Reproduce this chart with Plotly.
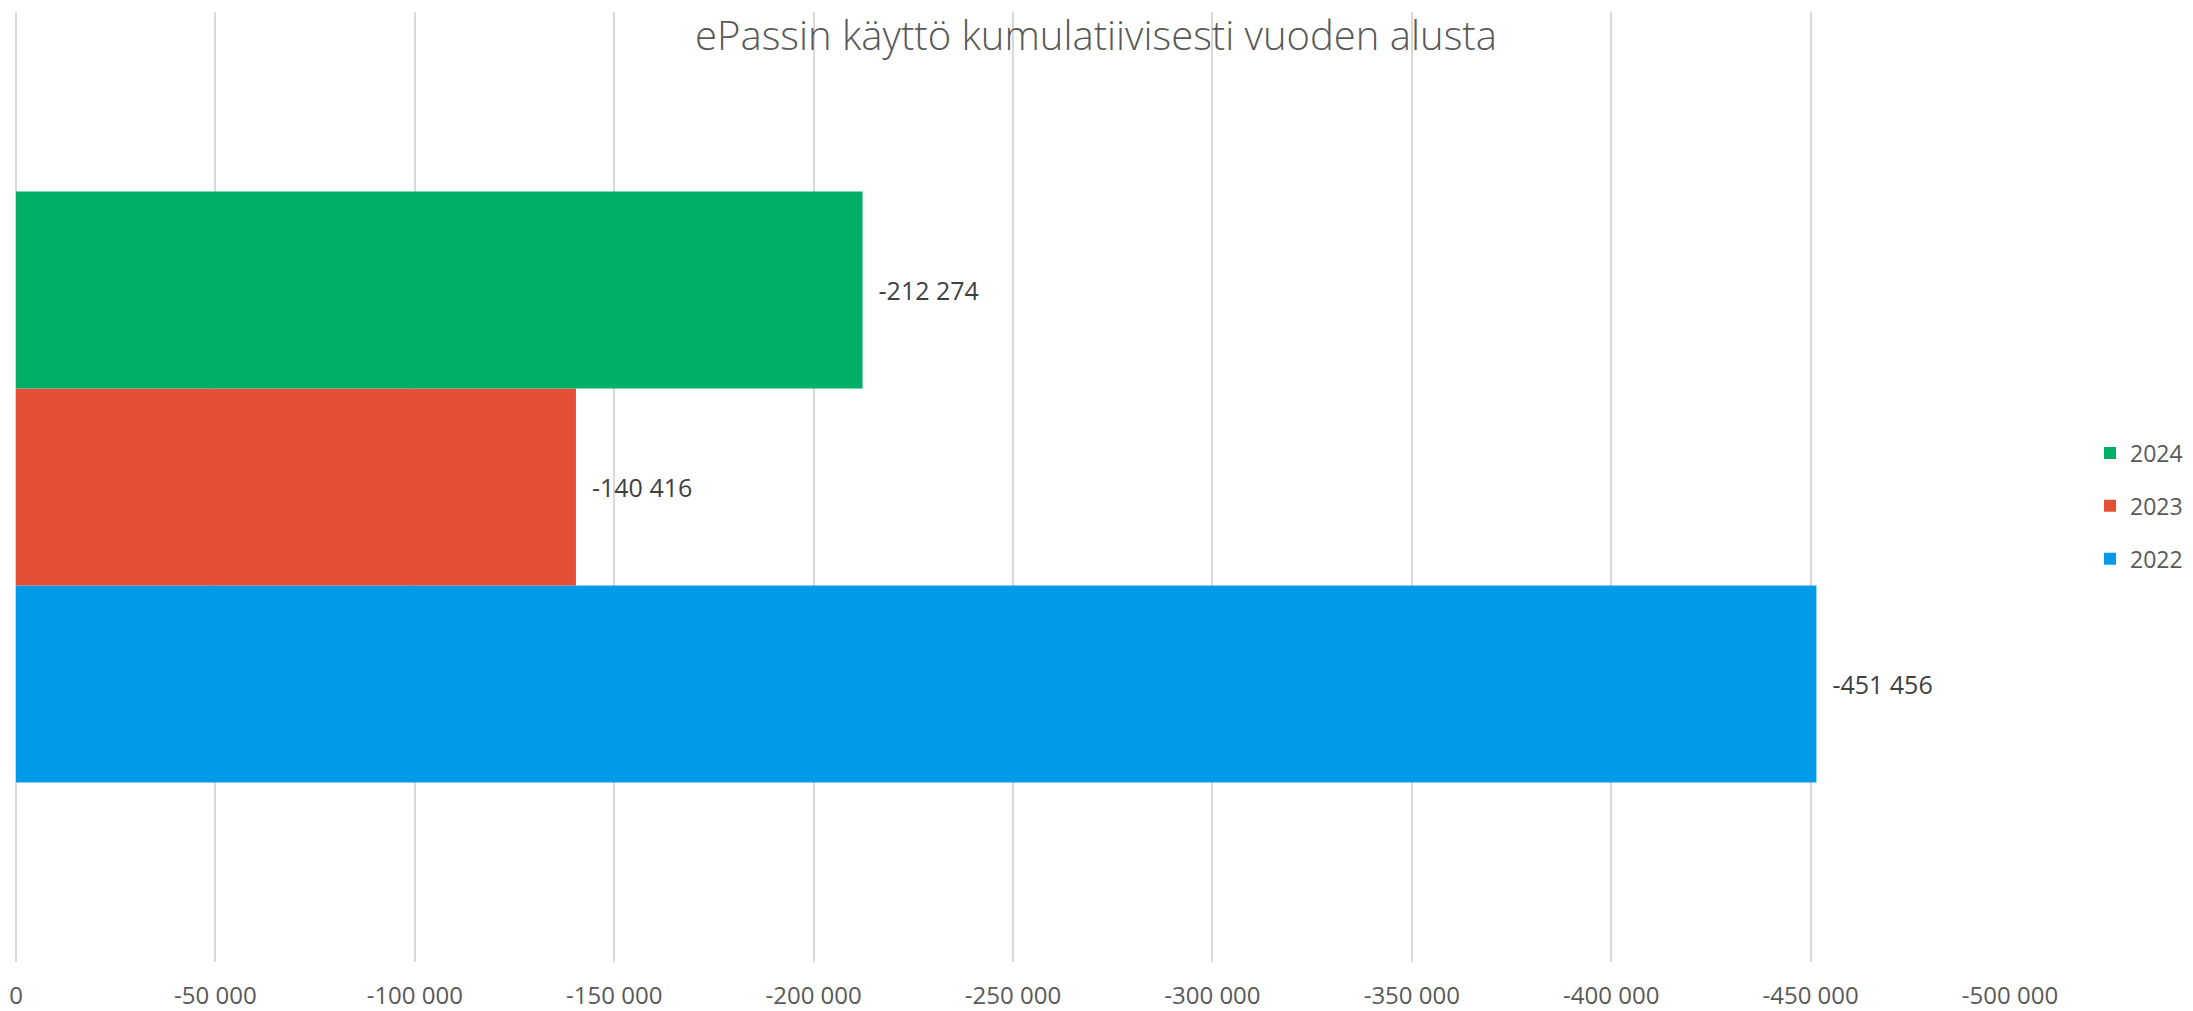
import plotly.graph_objects as go

# =========================================================
# DATA
# =========================================================

years = ["2022", "2023", "2024"]
usage = [-451456, -140416, -212274]
colors = ["#009BE8", "#E45036", "#00AF66"]

tick_vals = [0, -50000, -100000, -150000, -200000, -250000,
             -300000, -350000, -400000, -450000, -500000]
tick_text = ["0", "-50 000", "-100 000", "-150 000", "-200 000", "-250 000",
             "-300 000", "-350 000", "-400 000", "-450 000", "-500 000"]

title = "ePassin käyttö kumulatiivisesti vuoden alusta"
FONT = "Open Sans"


def fmt(v):
    return "\u00a0\u00a0" + f"{v:,}".replace(",", " ")


# =========================================================
# FIGURE
# =========================================================

fig = go.Figure()

for i, (year, val, col) in enumerate(zip(years, usage, colors)):
    fig.add_trace(
        go.Bar(
            x=[val],
            y=[""],
            orientation="h",
            name=year,
            legendgroup=year,
            legendrank=len(years) - i,
            marker=dict(color=col, line=dict(width=0)),
            text=[fmt(val)],
            textposition="outside",
            textfont=dict(family=FONT, size=25, color="#404040"),
            cliponaxis=False,
        )
    )

# the page has an 8px body margin, so the figure sits 8px right/down
fig.update_layout(
    width=2193,
    height=1011,
    barmode="group",
    bargap=0.378,
    bargroupgap=0,
    plot_bgcolor="white",
    paper_bgcolor="white",
    margin=dict(l=8, r=191, t=4, b=57, autoexpand=False),
    font=dict(family=FONT, color="#595959"),
    title=dict(
        text=title,
        x=1088 / 2193,
        xanchor="center",
        xref="container",
        y=1 - 28 / 1011,
        yanchor="middle",
        font=dict(family=FONT, size=40, color="#595959", weight=300),
    ),
    legend=dict(
        xref="container",
        yref="container",
        x=2082 / 2193,
        xanchor="left",
        y=1 - 498 / 1011,
        yanchor="middle",
        traceorder="grouped",
        font=dict(family=FONT, size=23, color="#595959"),
        tracegroupgap=20,
        itemwidth=30,
    ),
    showlegend=True,
)

fig.update_xaxes(
    range=[0, -500000],
    tickvals=tick_vals,
    ticktext=tick_text,
    automargin=False,
    showgrid=True,
    gridcolor="#D9D9D9",
    gridwidth=2,
    zeroline=True,
    zerolinecolor="#D9D9D9",
    zerolinewidth=2,
    showline=False,
    ticks="",
    ticklabelstandoff=17,
    tickfont=dict(family=FONT, size=24, color="#595959"),
)

fig.update_yaxes(
    automargin=False,
    showticklabels=False,
    showgrid=False,
    zeroline=False,
    showline=False,
)

fig.write_html("out.html")
